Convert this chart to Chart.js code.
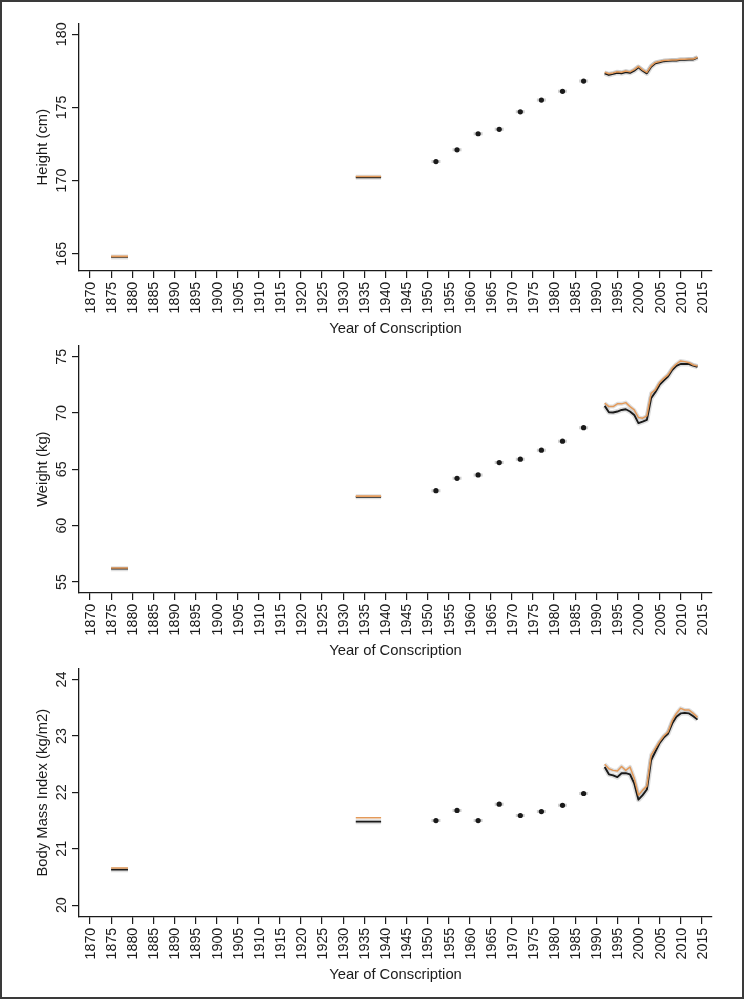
<!DOCTYPE html>
<html>
<head>
<meta charset="utf-8">
<script src="https://cdn.jsdelivr.net/npm/chart.js@4.4.1/dist/chart.umd.min.js"></script>
<style>
  html, body { margin: 0; padding: 0; background: #fff; }
  #page { position: relative; width: 744px; height: 999px; overflow: hidden; background: #fff; }
  #page canvas { position: absolute; left: 0; }
  #frame { position: absolute; left: 0; top: 0; width: 744px; height: 999px; box-sizing: border-box;
           border: 2px solid #3a3a3a; pointer-events: none; }
</style>
</head>
<body>
<div id="page">
  <canvas id="heightChart" width="744" height="345"></canvas>
  <canvas id="weightChart" width="744" height="345"></canvas>
  <canvas id="bmiChart" width="744" height="345"></canvas>
  <div id="frame"></div>
</div>
<script>
// --- data ---
const xTicks = [1870, 1875, 1880, 1885, 1890, 1895, 1900, 1905, 1910, 1915, 1920, 1925, 1930,
                1935, 1940, 1945, 1950, 1955, 1960, 1965, 1970, 1975, 1980, 1985, 1990, 1995,
                2000, 2005, 2010, 2015];
const periodStart = [1875, 1933];
const periodEnd = [1879, 1939];
const dotYears = [1952, 1957, 1962, 1967, 1972, 1977, 1982, 1987];
const lineYears = [1992, 1993, 1994, 1995, 1996, 1997, 1998, 1999, 2000, 2001, 2002, 2003,
                   2004, 2005, 2006, 2007, 2008, 2009, 2010, 2011, 2012, 2013, 2014];

// Height (cm)
const heightTicks = [165, 170, 175, 180];
const heightPeriodMain = [164.78, 170.22];
const heightPeriodAlt = [164.82, 170.28];
const heightDots = [171.3, 172.1, 173.2, 173.5, 174.7, 175.5, 176.1, 176.8];
const heightMain = [177.33, 177.22, 177.29, 177.37, 177.33, 177.42, 177.36, 177.51, 177.74, 177.51, 177.33,
                    177.78, 178.02, 178.09, 178.16, 178.18, 178.2, 178.2, 178.25, 178.25, 178.27, 178.28, 178.4];
const heightAlt = [177.4, 177.3, 177.36, 177.44, 177.4, 177.49, 177.43, 177.58, 177.8, 177.57, 177.39,
                   177.84, 178.07, 178.14, 178.2, 178.22, 178.24, 178.24, 178.29, 178.29, 178.31, 178.31, 178.43];

// Weight (kg)
const weightTicks = [55, 60, 65, 70, 75];
const weightPeriodMain = [56.18, 62.56];
const weightPeriodAlt = [56.24, 62.62];
const weightDots = [63.1, 64.2, 64.5, 65.6, 65.9, 66.7, 67.5, 68.7];
const weightMain = [70.63, 70.07, 70.04, 70.13, 70.27, 70.33, 70.13, 69.83, 69.1, 69.24, 69.39, 71.31,
                    71.84, 72.49, 72.87, 73.23, 73.82, 74.18, 74.35, 74.35, 74.35, 74.2, 74.11];
const weightAlt = [70.87, 70.57, 70.57, 70.81, 70.81, 70.92, 70.57, 70.27, 69.6, 69.54, 69.74, 71.75,
                   72.05, 72.7, 73.08, 73.38, 73.97, 74.35, 74.62, 74.56, 74.47, 74.26, 74.18];

// Body Mass Index (kg/m2)
const bmiTicks = [20, 21, 22, 23, 24];
const bmiPeriodMain = [20.63, 21.48];
const bmiPeriodAlt = [20.66, 21.55];
const bmiDots = [21.5, 21.68, 21.5, 21.79, 21.59, 21.66, 21.77, 21.98];
const bmiMain = [22.45, 22.32, 22.3, 22.27, 22.34, 22.34, 22.32, 22.16, 21.87, 21.95, 22.05, 22.57,
                 22.72, 22.87, 22.97, 23.04, 23.22, 23.34, 23.4, 23.41, 23.4, 23.35, 23.29];
const bmiAlt = [22.5, 22.42, 22.39, 22.38, 22.46, 22.39, 22.45, 22.25, 21.95, 22.04, 22.11, 22.66,
                22.78, 22.9, 23.0, 23.07, 23.27, 23.4, 23.49, 23.46, 23.46, 23.4, 23.33];

// --- styling ---
const FONT_FAMILY = '"Liberation Sans", Arial, Helvetica, sans-serif';
const TICK_SIZE = 14.3;
const TITLE_SIZE = 14.8;
const INK = '#1a1a1a';
const ORANGE = '#e39a5a';
const HALO = 'rgba(160, 160, 160, 0.35)';

// draws the vertical tick labels of both axes
const rotatedTicks = {
    id: 'rotatedTicks',
    afterDraw(chart) {
        const ctx = chart.ctx;
        const xs = chart.scales.x;
        const ys = chart.scales.y;
        ctx.save();
        ctx.fillStyle = INK;
        ctx.font = `${TICK_SIZE}px ${FONT_FAMILY}`;
        ctx.textBaseline = 'alphabetic';
        xs.ticks.forEach(t => {
            ctx.save();
            ctx.translate(xs.getPixelForValue(t.value) + 5, xs.top + 10.7);
            ctx.rotate(-Math.PI / 2);
            ctx.textAlign = 'right';
            ctx.fillText(String(t.value), 0, 0);
            ctx.restore();
        });
        ys.ticks.forEach(t => {
            ctx.save();
            ctx.translate(ys.right - 13.4, ys.getPixelForValue(t.value));
            ctx.rotate(-Math.PI / 2);
            ctx.textAlign = 'center';
            ctx.fillText(String(t.value), 0, 0);
            ctx.restore();
        });
        ctx.restore();
    }
};

function pts(xs, ys) {
    return xs.map((x, i) => ({ x, y: ys[i] }));
}

function lineSet(data, color, width, order) {
    return { data, borderColor: color, borderWidth: width, pointRadius: 0, fill: false,
             tension: 0, order, borderJoinStyle: 'round', borderCapStyle: 'butt' };
}

function buildDatasets(p) {
    const sets = [];
    periodStart.forEach((start, i) => {
        const xs = [start, periodEnd[i]];
        const main = pts(xs, [p.periodMain[i], p.periodMain[i]]);
        const alt = pts(xs, [p.periodAlt[i], p.periodAlt[i]]);
        sets.push(lineSet(main, HALO, 5, 6));
        sets.push(lineSet(main, INK, 1.8, 3));
        sets.push(lineSet(alt, ORANGE, 1.6, 2));
    });
    const lineMain = pts(lineYears, p.lineMain);
    const lineAlt = pts(lineYears, p.lineAlt);
    sets.push(lineSet(lineMain, HALO, 5, 6));
    sets.push(lineSet(lineAlt, HALO, 4, 6));
    sets.push(lineSet(lineMain, INK, 1.9, 3));
    sets.push(lineSet(lineAlt, ORANGE, 1.5, 2));

    const dots = pts(dotYears, p.dots);
    sets.push({ data: dots, showLine: false, pointStyle: 'line', pointRadius: 4.5,
                pointBorderWidth: 3, pointBorderColor: 'rgba(170,170,170,0.55)', order: 5 });
    sets.push({ data: dots, showLine: false, pointStyle: 'circle', pointRadius: 2.6,
                pointBorderWidth: 0, pointBackgroundColor: INK, order: 1 });
    return sets;
}

function makePanel(canvasId, p) {
    const canvas = document.getElementById(canvasId);
    canvas.style.top = (p.axisTop - 23.3) + 'px';
    canvas.height = Math.round(p.axisBottom - p.axisTop + 23.3 + 74);

    const axisStyle = {
        border: { display: true, color: INK, width: 1.3 },
        grid: { display: true, drawOnChartArea: false, drawTicks: true, tickLength: 7,
                color: INK, lineWidth: 1.2 },
        ticks: { display: false }
    };

    return new Chart(canvas.getContext('2d'), {
        type: 'line',
        data: { datasets: buildDatasets(p) },
        options: {
            responsive: false,
            animation: false,
            events: [],
            layout: { padding: { left: 0, right: 32, top: 23.3, bottom: 0 } },
            plugins: { legend: { display: false }, tooltip: { enabled: false } },
            scales: {
                x: {
                    type: 'linear',
                    min: 1867.39,
                    max: 2017.44,
                    ...axisStyle,
                    afterBuildTicks: s => { s.ticks = xTicks.map(v => ({ value: v })); },
                    afterFit: s => { s.height = 74; },
                    title: {
                        display: true,
                        text: 'Year of Conscription',
                        color: INK,
                        font: { family: FONT_FAMILY, size: TITLE_SIZE },
                        padding: { top: 0, bottom: 7.3 }
                    }
                },
                y: {
                    type: 'linear',
                    min: p.yMin,
                    max: p.yMax,
                    ...axisStyle,
                    afterBuildTicks: s => { s.ticks = p.yTicks.map(v => ({ value: v })); },
                    afterFit: s => { s.width = 79; },
                    title: {
                        display: true,
                        text: p.yTitle,
                        color: INK,
                        font: { family: FONT_FAMILY, size: TITLE_SIZE },
                        padding: { top: 34, bottom: 0 }
                    }
                }
            }
        },
        plugins: [rotatedTicks]
    });
}

makePanel('heightChart', {
    axisTop: 23.3, axisBottom: 271, yMin: 163.82, yMax: 180.75, yTicks: heightTicks,
    yTitle: 'Height (cm)', periodMain: heightPeriodMain, periodAlt: heightPeriodAlt,
    dots: heightDots, lineMain: heightMain, lineAlt: heightAlt
});
makePanel('weightChart', {
    axisTop: 345.3, axisBottom: 593.3, yMin: 54.02, yMax: 76.01, yTicks: weightTicks,
    yTitle: 'Weight (kg)', periodMain: weightPeriodMain, periodAlt: weightPeriodAlt,
    dots: weightDots, lineMain: weightMain, lineAlt: weightAlt
});
makePanel('bmiChart', {
    axisTop: 668.3, axisBottom: 916.7, yMin: 19.79, yMax: 24.2, yTicks: bmiTicks,
    yTitle: 'Body Mass Index (kg/m2)', periodMain: bmiPeriodMain, periodAlt: bmiPeriodAlt,
    dots: bmiDots, lineMain: bmiMain, lineAlt: bmiAlt
});
</script>
</body>
</html>
